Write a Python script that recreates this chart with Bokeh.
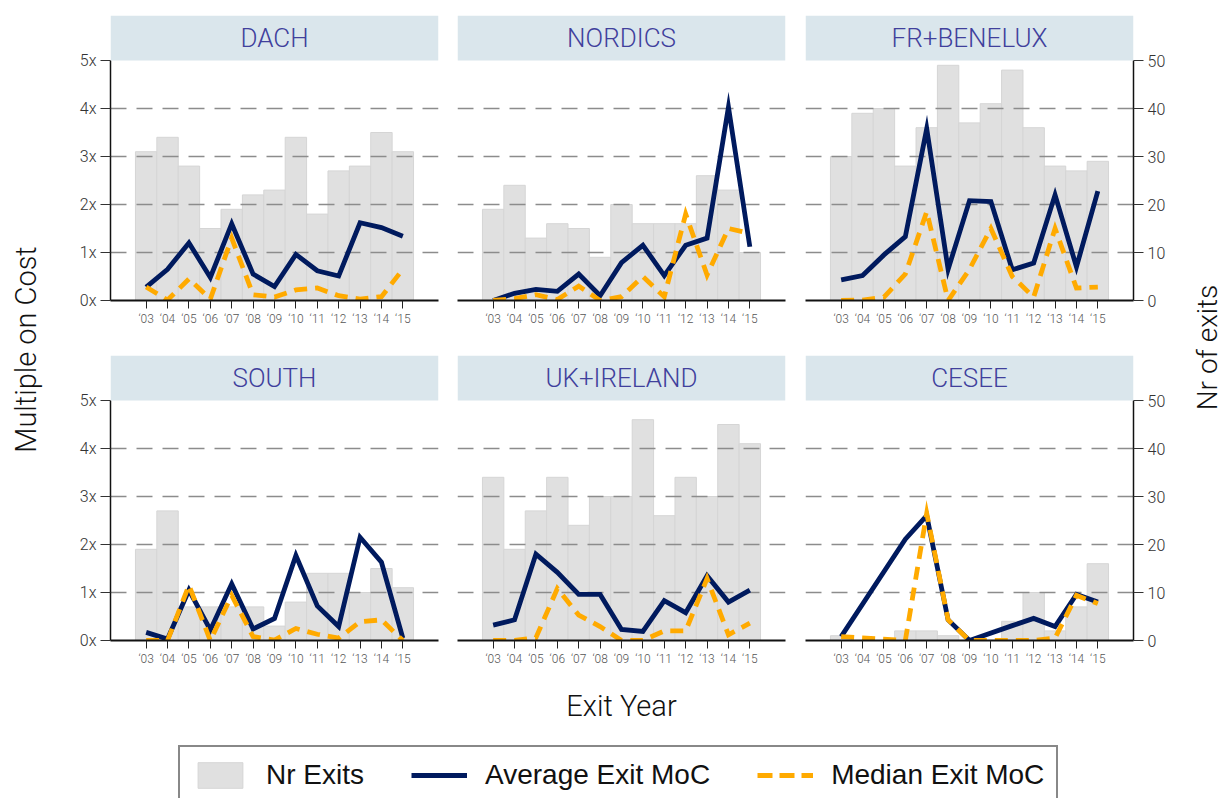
import math
import numpy as np
from bokeh.plotting import figure
from bokeh.layouts import row, column
from bokeh.models import (Range1d, LinearAxis, FixedTicker, BoxAnnotation, Label,
                          Legend, LegendItem, ColumnDataSource)
from bokeh.embed import file_html
from bokeh.resources import INLINE

# ---------------- data ----------------
years = [2003, 2004, 2005, 2006, 2007, 2008, 2009, 2010, 2011, 2012, 2013, 2014, 2015]
year_labels = ["\u201803", "\u201804", "\u201805", "\u201806", "\u201807", "\u201808", "\u201809",
               "\u201810", "\u201811", "\u201812", "\u201813", "\u201814", "\u201815"]
moc_ticks = [0, 1, 2, 3, 4, 5]
moc_tick_labels = ["0x", "1x", "2x", "3x", "4x", "5x"]
exit_ticks = [0, 10, 20, 30, 40, 50]

regions = ["DACH", "NORDICS", "FR+BENELUX", "SOUTH", "UK+IRELAND", "CESEE"]

dach_exits = [31, 34, 28, 15, 19, 22, 23, 34, 18, 27, 28, 35, 31]
dach_avg = [0.28, 0.65, 1.2, 0.48, 1.6, 0.55, 0.29, 0.96, 0.62, 0.51, 1.62, 1.52, 1.34]
dach_median = [0.28, 0.01, 0.45, 0.03, 1.3, 0.12, 0.07, 0.22, 0.26, 0.1, 0.03, 0.08, 0.65]

nordics_exits = [19, 24, 13, 16, 15, 9, 20, 16, 16, 16, 26, 23, 10]
nordics_avg = [0.0, 0.15, 0.23, 0.19, 0.55, 0.1, 0.79, 1.15, 0.52, 1.15, 1.3, 4.03, 1.12]
nordics_median = [0.0, 0.04, 0.12, 0.02, 0.3, 0.0, 0.08, 0.5, 0.08, 1.8, 0.53, 1.5, 1.4]

frbenelux_exits = [30, 39, 40, 28, 36, 49, 37, 41, 48, 36, 28, 27, 29]
frbenelux_avg = [0.43, 0.52, 0.95, 1.33, 3.58, 0.65, 2.08, 2.06, 0.64, 0.78, 2.2, 0.7, 2.28]
frbenelux_median = [0.0, 0.01, 0.07, 0.55, 1.85, 0.0, 0.65, 1.5, 0.5, 0.07, 1.5, 0.26, 0.28]

south_exits = [19, 27, 7, 7, 7, 7, 3, 8, 14, 14, 10, 15, 11]
south_avg = [0.17, 0.03, 1.05, 0.22, 1.18, 0.24, 0.46, 1.77, 0.72, 0.29, 2.15, 1.63, 0.05]
south_median = [0.0, 0.0, 1.15, 0.0, 0.94, 0.08, 0.01, 0.25, 0.13, 0.05, 0.39, 0.43, 0.0]

ukireland_exits = [34, 19, 27, 34, 24, 30, 30, 46, 26, 34, 30, 45, 41]
ukireland_avg = [0.32, 0.43, 1.8, 1.42, 0.96, 0.96, 0.23, 0.19, 0.83, 0.58, 1.35, 0.8, 1.05]
ukireland_median = [0.0, 0.0, 0.06, 1.08, 0.53, 0.29, 0.0, 0.0, 0.2, 0.2, 1.29, 0.12, 0.36]

cesee_exits = [1, 0, 0, 2, 2, 1, 0, 0, 4, 10, 2, 7, 16]
cesee_avg = [0.08, None, None, 2.11, 2.6, 0.43, 0.0, None, 0.31, 0.46, 0.29, 0.96, 0.8]
cesee_median = [0.08, None, None, 0.0, 2.65, 0.43, 0.0, None, 0.0, 0.0, 0.05, 0.94, 0.77]

series = [
    (dach_exits, dach_avg, dach_median),
    (nordics_exits, nordics_avg, nordics_median),
    (frbenelux_exits, frbenelux_avg, frbenelux_median),
    (south_exits, south_avg, south_median),
    (ukireland_exits, ukireland_avg, ukireland_median),
    (cesee_exits, cesee_avg, cesee_median),
]

# ---------------- style ----------------
FONT = "Roboto Light"
LEG_FONT = "Liberation Sans"
NAVY = "#001a5e"
ORANGE = "#ffaa00"
BAR = "#e0e0e0"
STRIP = "#dae6ec"
STRIP_TEXT = "#40409c"

X_LO, X_HI = 2001.333, 2016.667
Y_TOP = 5.9375          # includes header strip above 5x
N_TOP = Y_TOP * 10


def keep(xs, ys):
    pts = [(a, b) for a, b in zip(xs, ys) if b is not None]
    return [a for a, _ in pts], [b for _, b in pts]


def style_axis(a, size="16px"):
    a.axis_line_color = "#111111"
    a.axis_line_width = 1.5
    a.major_tick_line_color = "#333333"
    a.major_tick_in = 0
    a.major_tick_out = 10
    a.minor_tick_line_color = None
    a.major_label_text_font = FONT
    a.major_label_text_font_size = size
    a.major_label_text_color = "#333333"
    a.major_label_standoff = 4


def panel(i):
    col, rw = i % 3, i // 3
    name = regions[i]
    exits, avg, med = series[i]
    top_b = 15 if rw == 0 else 0
    bot_b = 55 if rw == 0 else 30
    left_b = [50, 9, 10][col]
    right_b = [10, 10, 50][col]
    p = figure(width=left_b + 328 + right_b, height=top_b + 285 + bot_b,
               x_range=Range1d(X_LO, X_HI), y_range=Range1d(0, Y_TOP),
               output_backend="svg", toolbar_location=None,
               y_axis_location="left" if col == 0 else None,
               min_border_left=left_b, min_border_right=right_b,
               min_border_top=top_b, min_border_bottom=bot_b,
               outline_line_color=None, background_fill_color="white",
               border_fill_color="white")
    p.extra_y_ranges = {"n": Range1d(0, N_TOP)}

    # bars (drawn below the grid)
    p.vbar(x=years, top=exits, width=1, y_range_name="n", fill_color=BAR,
           line_color="#d5d5d5", line_width=1, level="image")

    # grid
    p.xgrid.visible = False
    p.ygrid.ticker = FixedTicker(ticks=[1, 2, 3, 4])
    p.ygrid.grid_line_color = "#8c8c8c"
    p.ygrid.grid_line_width = 1.3
    p.ygrid.grid_line_dash = "16 10"

    # lines
    ax, ay = keep(years, avg)
    mx, my = keep(years, med)
    p.line(ax, ay, line_color=NAVY, line_width=4.8, line_join="miter")
    p.line(mx, my, line_color=ORANGE, line_width=4.8, line_dash="13 8",
           line_join="miter")

    # bottom axis
    xa = p.xaxis[0]
    xa.ticker = FixedTicker(ticks=years)
    xa.major_label_overrides = dict(zip(years, year_labels))
    xa.axis_line_color = "#111111"
    xa.axis_line_width = 2
    xa.major_tick_line_color = "#222222"
    xa.major_tick_in = 0
    xa.major_tick_out = 8
    xa.minor_tick_line_color = None
    xa.major_label_text_font = FONT
    xa.major_label_text_font_size = "12px"
    xa.major_label_text_color = "#555555"
    xa.major_label_standoff = 3

    if col == 0:
        ya = p.yaxis[0]
        ya.ticker = FixedTicker(ticks=moc_ticks)
        ya.major_label_overrides = dict(zip(moc_ticks, moc_tick_labels))
        ya.bounds = (0, 5)
        style_axis(ya)
    if col == 2:
        ra = LinearAxis(y_range_name="n", ticker=FixedTicker(ticks=exit_ticks),
                        bounds=(0, 50))
        style_axis(ra)
        p.add_layout(ra, "right")

    # header strip
    p.add_layout(BoxAnnotation(bottom=5, top=Y_TOP, left=X_LO, right=X_HI,
                               fill_color=STRIP, fill_alpha=1, line_alpha=0))
    p.add_layout(Label(x=(X_LO + X_HI) / 2, y=(5 + Y_TOP) / 2, text=name,
                       text_align="center", text_baseline="middle",
                       text_font=FONT, text_font_size="26px", text_color=STRIP_TEXT))
    return p


panels = [panel(i) for i in range(6)]

# side labels
LH = 670
left_fig = figure(width=60, height=LH, x_range=Range1d(0, 60), y_range=Range1d(0, LH),
                  output_backend="svg", toolbar_location=None, x_axis_type=None,
                  y_axis_type=None, min_border=0, outline_line_color=None)
left_fig.grid.visible = False
left_fig.add_layout(Label(x=25, y=LH - 349, text="Multiple on Cost", angle=math.pi / 2,
                          text_align="center", text_baseline="middle", text_font=FONT,
                          text_font_size="29px", text_color="#111111"))

RW = 43
right_fig = figure(width=RW, height=LH, x_range=Range1d(0, RW), y_range=Range1d(0, LH),
                   output_backend="svg", toolbar_location=None, x_axis_type=None,
                   y_axis_type=None, min_border=0, outline_line_color=None)
right_fig.grid.visible = False
right_fig.add_layout(Label(x=24, y=LH - 347, text="Nr of exits", angle=math.pi / 2,
                           text_align="center", text_baseline="middle", text_font=FONT,
                           text_font_size="28px", text_color="#111111"))

# bottom: x title + legend
BW, BH = 1226, 128
bottom = figure(width=BW, height=BH, x_range=Range1d(0, BW), y_range=Range1d(0, BH),
                output_backend="svg", toolbar_location=None, x_axis_type=None,
                y_axis_type=None, min_border=0, outline_line_color=None)
bottom.grid.visible = False
bottom.add_layout(Label(x=621, y=BH - 35, text="Exit Year", text_align="center",
                        text_baseline="middle", text_font=FONT, text_font_size="29px",
                        text_color="#111111"))

# legend-only renderers (one missing value each, so nothing is drawn in the frame)
legend_src = ColumnDataSource(data=dict(x=np.array([np.nan]), y=np.array([np.nan]),
                                        top=np.array([np.nan])))
r_bar = bottom.vbar(x="x", top="top", width=1, source=legend_src, fill_color=BAR,
                    line_color="#d5d5d5")
r_avg = bottom.line(x="x", y="y", source=legend_src, line_color=NAVY, line_width=5)
r_med = bottom.line(x="x", y="y", source=legend_src, line_color=ORANGE, line_width=5,
                    line_dash="15 7")
legend = Legend(items=[LegendItem(label="Nr Exits", renderers=[r_bar]),
                       LegendItem(label="Average Exit MoC", renderers=[r_avg]),
                       LegendItem(label="Median Exit MoC", renderers=[r_med])],
                orientation="horizontal", location=(178, -7),
                glyph_width=56, glyph_height=32, label_standoff=18, spacing=47,
                padding=12, margin=0, border_line_color="#111111", border_line_width=2,
                label_text_font=LEG_FONT, label_text_font_size="28px",
                label_text_color="#111111", background_fill_alpha=1)
bottom.add_layout(legend, "center")

grid = column(row(*panels[:3]), row(*panels[3:]))
layout = column(row(left_fig, grid, right_fig), bottom)

open("out.html", "w").write(file_html(layout, INLINE))
